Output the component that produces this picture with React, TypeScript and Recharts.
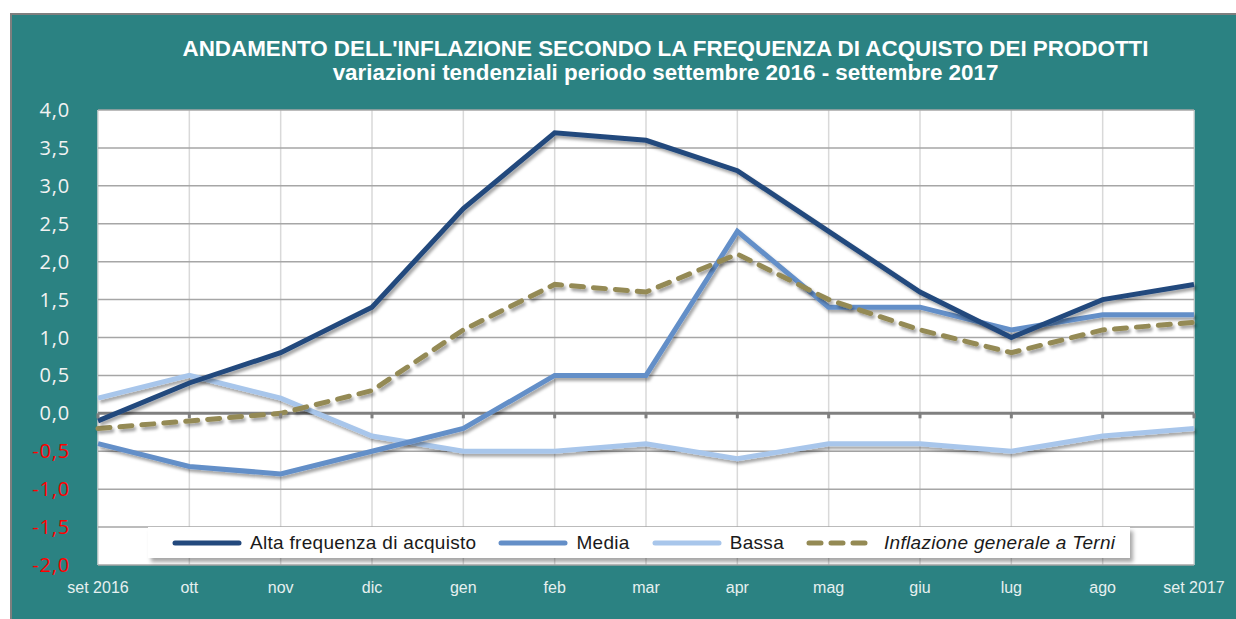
import React from 'react';
import { LineChart, Line, XAxis, YAxis, CartesianGrid, ReferenceLine, ReferenceDot } from 'recharts';

const months = ['set 2016', 'ott', 'nov', 'dic', 'gen', 'feb', 'mar', 'apr', 'mag', 'giu', 'lug', 'ago', 'set 2017'];
const alta = [-0.1, 0.4, 0.8, 1.4, 2.7, 3.7, 3.6, 3.2, 2.4, 1.6, 1.0, 1.5, 1.7];
const media = [-0.4, -0.7, -0.8, -0.5, -0.2, 0.5, 0.5, 2.4, 1.4, 1.4, 1.1, 1.3, 1.3];
const bassa = [0.2, 0.5, 0.2, -0.3, -0.5, -0.5, -0.4, -0.6, -0.4, -0.4, -0.5, -0.3, -0.2];
const inflazione = [-0.2, -0.1, 0.0, 0.3, 1.1, 1.7, 1.6, 2.1, 1.5, 1.1, 0.8, 1.1, 1.2];
const yTicks = [-2, -1.5, -1, -0.5, 0, 0.5, 1, 1.5, 2, 2.5, 3, 3.5, 4];

const C_ALTA = '#23497D';
const C_MEDIA = '#648FC8';
const C_BASSA = '#A8C6EB';
const C_INFL = '#948A54';
const TEAL = '#2B8282';

const series = [
  { key: 'alta', name: 'Alta frequenza di acquisto', color: C_ALTA, dashed: false },
  { key: 'media', name: 'Media', color: C_MEDIA, dashed: false },
  { key: 'bassa', name: 'Bassa', color: C_BASSA, dashed: false },
  { key: 'inflazione', name: 'Inflazione generale a Terni', color: C_INFL, dashed: true },
];

const data = months.map((m, i) => ({
  month: m,
  alta: alta[i],
  media: media[i],
  bassa: bassa[i],
  inflazione: inflazione[i],
}));

const fmt = (v: number) => v.toFixed(1).replace('.', ',');

const YTick = (props: any) => {
  const { x, y, payload } = props;
  const v = payload.value as number;
  return (
    <text x={x - 20} y={y} dy={7} textAnchor="end" fontSize={20} letterSpacing={0.8} fill={v < 0 ? '#FF0000' : '#F2F2F2'} fontFamily="'Open Sans', 'Liberation Sans', sans-serif">
      {fmt(v)}
    </text>
  );
};

const XTick = (props: any) => {
  const { x, y, payload } = props;
  return (
    <text x={x} y={y} dy={20} textAnchor="middle" fontSize={16} fill="#E6F0F0" fontFamily="'Liberation Sans', Arial, sans-serif">
      {payload.value}
    </text>
  );
};

const ZeroTick = (props: any) => {
  const { cx, cy } = props;
  if (cx == null || cy == null) return null;
  return <rect x={cx - 1.5} y={cy} width={3} height={5} fill="#808080" />;
};

const legendOrder = ['alta', 'media', 'bassa', 'inflazione'];

export default function App() {
  return (
    <div style={{ position: 'absolute', left: 0, top: 0, width: 1236, height: 619, background: '#fff', overflow: 'hidden' }}>
      <div style={{ position: 'absolute', left: 10, top: 13, width: 1230, height: 610, background: TEAL, borderLeft: '2px solid #7F7F7F', borderTop: '2px solid #7F7F7F' }} />
      <div style={{ position: 'absolute', left: 0, top: 37, width: 1331, textAlign: 'center', color: '#fff', fontFamily: "'Liberation Sans', Arial, sans-serif", fontWeight: 'bold', fontSize: 22.4, lineHeight: '24px' }}>
        <div>ANDAMENTO DELL'INFLAZIONE SECONDO LA FREQUENZA DI ACQUISTO DEI PRODOTTI</div>
        <div>variazioni tendenziali periodo settembre 2016 - settembre 2017</div>
      </div>
      <div style={{ position: 'absolute', left: 0, top: 0 }}>
        <LineChart width={1236} height={619} data={data} margin={{ top: 110, right: 42, bottom: 24, left: 38 }}>
          <defs>
            <filter id="lineShadow" x="-5%" y="-20%" width="110%" height="140%">
              <feDropShadow dx="2" dy="3" stdDeviation="1.8" floodColor="#000" floodOpacity="0.35" />
            </filter>
          </defs>
          <CartesianGrid horizontal={false} vertical={true} stroke="#D9D9D9" strokeWidth={1.5} fill="#FFFFFF" fillOpacity={1} />
          <CartesianGrid horizontal={true} vertical={false} stroke="#A6A6A6" strokeWidth={1.5} />
          <XAxis dataKey="month" axisLine={false} tickLine={false} tick={<XTick />} interval={0} height={30} />
          <YAxis domain={[-2, 4]} ticks={yTicks} axisLine={false} tickLine={false} tick={<YTick />} width={60} interval={0} />
          <ReferenceLine y={0} stroke="#808080" strokeWidth={3} />
          {months.map((m) => (
            <ReferenceDot key={m} x={m} y={0} r={2} shape={<ZeroTick />} />
          ))}
          <Line dataKey="bassa" name={series[2].name} stroke={C_BASSA} strokeWidth={5} dot={false} isAnimationActive={false} filter="url(#lineShadow)" />
          <Line dataKey="media" name={series[1].name} stroke={C_MEDIA} strokeWidth={5} dot={false} isAnimationActive={false} filter="url(#lineShadow)" />
          <Line dataKey="inflazione" name={series[3].name} stroke={C_INFL} strokeWidth={5} strokeDasharray="12 10" strokeLinecap="round" dot={false} isAnimationActive={false} filter="url(#lineShadow)" />
          <Line dataKey="alta" name={series[0].name} stroke={C_ALTA} strokeWidth={5} dot={false} isAnimationActive={false} filter="url(#lineShadow)" />
        </LineChart>
      </div>
      <div style={{ position: 'absolute', left: 148, top: 527, width: 982, height: 31, background: '#fff', boxShadow: '3px 4px 4px rgba(0,0,0,0.35)', display: 'flex', alignItems: 'center', paddingLeft: 24, boxSizing: 'border-box', fontFamily: "'Liberation Sans', Arial, sans-serif", fontSize: 19, letterSpacing: 0.3, color: '#1A1A1A', whiteSpace: 'nowrap', overflow: 'visible' }}>
        {legendOrder.map((k) => {
          const it = series.find((s) => s.key === k)!;
          return (
            <div key={k} style={{ display: 'flex', alignItems: 'center', marginRight: 22, flexShrink: 0 }}>
              <svg width={70} height={10} style={{ marginRight: 8, flexShrink: 0 }}>
                <line x1={3} y1={5} x2={67} y2={5} stroke={it.color} strokeWidth={5} strokeLinecap="round" strokeDasharray={it.dashed ? '12 10' : undefined} />
              </svg>
              <span style={{ fontStyle: it.dashed ? 'italic' : 'normal', whiteSpace: 'nowrap' }}>{it.name}</span>
            </div>
          );
        })}
      </div>
    </div>
  );
}
